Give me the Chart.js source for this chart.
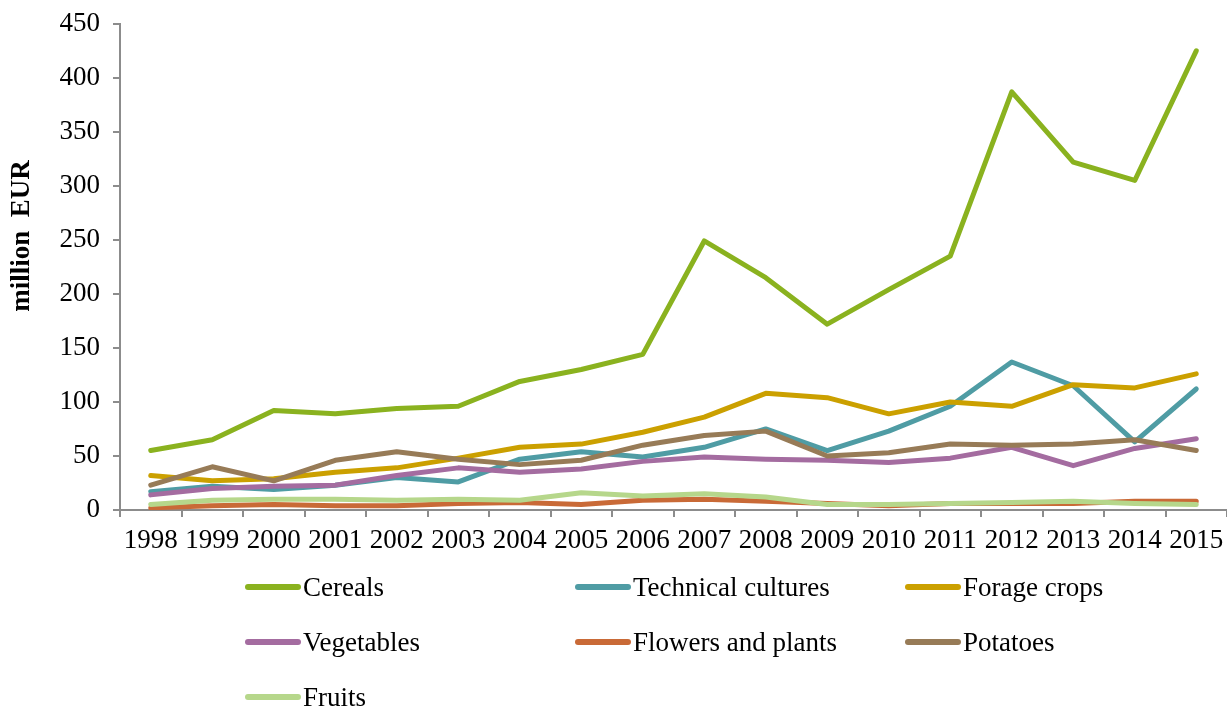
<!doctype html>
<html>
<head>
	<title>Crop values</title>
	<script src="https://cdn.jsdelivr.net/npm/chart.js@4/dist/chart.umd.min.js"></script>
	<style>
	body { margin: 0; background: #fff; }
	#wrap { position: relative; width: 1227px; height: 708px; }
	#legend { position: absolute; left: 0; top: 0; width: 1227px; height: 708px; pointer-events: none;
		font-family: "Liberation Serif", "Times New Roman", serif; font-size: 27px; color: #000; }
	.item { position: absolute; display: flex; align-items: center; height: 30px; margin-top: -15px; white-space: nowrap; }
	.item span.ln { display: inline-block; width: 56px; height: 6px; border-radius: 3px; margin-right: 2px; }
	</style>
</head>
<body>
	<div id="wrap">
		<canvas id="canvas" width="1227" height="708"></canvas>
		<div id="legend"></div>
	</div>
	<script>
		var years = ['1998', '1999', '2000', '2001', '2002', '2003', '2004', '2005', '2006',
			'2007', '2008', '2009', '2010', '2011', '2012', '2013', '2014', '2015'];

		var cereals = [55, 65, 92, 89, 94, 96, 119, 130, 144, 249, 215, 172, 204, 235, 387, 322, 305, 425];
		var technical = [17, 22, 19, 23, 30, 26, 47, 54, 49, 58, 75, 55, 73, 96, 137, 115, 63, 112];
		var forage = [32, 27, 29, 35, 39, 48, 58, 61, 72, 86, 108, 104, 89, 100, 96, 116, 113, 126];
		var vegetables = [14, 20, 22, 23, 32, 39, 35, 38, 45, 49, 47, 46, 44, 48, 58, 41, 57, 66];
		var flowers = [2, 4, 5, 4, 4, 6, 7, 5, 9, 10, 8, 6, 4, 6, 6, 6, 8, 8];
		var potatoes = [23, 40, 27, 46, 54, 47, 42, 46, 60, 69, 73, 50, 53, 61, 60, 61, 65, 55];
		var fruits = [5, 9, 10, 10, 9, 10, 9, 16, 13, 15, 12, 5, 5, 6, 7, 8, 6, 5];

		var seriesNames = ['Cereals', 'Technical cultures', 'Forage crops', 'Vegetables',
			'Flowers and plants', 'Potatoes', 'Fruits'];
		var seriesData = [cereals, technical, forage, vegetables, flowers, potatoes, fruits];
		var seriesColors = ['#8AB21F', '#4F9CA4', '#CBA000', '#A46CA0', '#C96A37', '#977B57', '#B6D78B'];

		var font = '"Liberation Serif", "Times New Roman", serif';
		var axisColor = '#8c8c8c';

		var datasets = seriesNames.map(function(name, i) {
			return {
				label: name,
				data: seriesData[i],
				borderColor: seriesColors[i],
				backgroundColor: seriesColors[i],
				borderWidth: 5,
				pointRadius: 0,
				tension: 0,
				borderCapStyle: 'round',
				borderJoinStyle: 'round',
				fill: false,
				order: seriesNames.length - 1 - i   // later series on top, like the original
			};
		});

		// legend in 3 columns
		var legendCols = [245, 575, 905];
		var legendRows = [587, 642, 697];
		var legend = document.getElementById('legend');
		seriesNames.forEach(function(name, i) {
			var el = document.createElement('div');
			el.className = 'item';
			el.style.left = legendCols[i % 3] + 'px';
			el.style.top = legendRows[Math.floor(i / 3)] + 'px';
			el.innerHTML = '<span class="ln" style="background:' + seriesColors[i] + '"></span>' + name;
			legend.appendChild(el);
		});

		// y title, sits a bit above the middle of the axis in the original
		var yTitle = {
			id: 'yTitle',
			afterDraw: function(chart) {
				var c = chart.ctx;
				c.save();
				c.translate(22, 236);
				c.rotate(-Math.PI / 2);
				c.font = 'bold 27px ' + font;
				c.fillStyle = '#000';
				c.textAlign = 'center';
				c.textBaseline = 'middle';
				c.fillText('million  EUR', 0, 0);
				c.restore();
			}
		};

		window.onload = function() {
			var ctx = document.getElementById('canvas').getContext('2d');
			window.myChart = new Chart(ctx, {
				type: 'line',
				data: { labels: years, datasets: datasets },
				plugins: [yTitle],
				options: {
					responsive: false,
					animation: false,
					layout: { padding: { top: 19, right: 0, bottom: 153, left: 0 } },
					plugins: { legend: { display: false }, tooltip: { enabled: false } },
					scales: {
						x: {
							offset: true,
							grid: { offset: true, drawOnChartArea: false, drawTicks: true, tickLength: 7, color: axisColor, lineWidth: 2 },
							border: { color: axisColor, width: 2 },
							ticks: { color: '#000', font: { family: font, size: 27 }, padding: 8, maxRotation: 0, autoSkip: false },
							afterFit: function(s) { s.height = 45; s.paddingLeft = 0; s.paddingRight = 0; }
						},
						y: {
							min: 0,
							max: 450,
							grid: { drawOnChartArea: false, drawTicks: true, tickLength: 7, color: axisColor, lineWidth: 2 },
							border: { color: axisColor, width: 2 },
							ticks: { stepSize: 50, color: '#000', font: { family: font, size: 27, lineHeight: 0.8 }, padding: 13 },
							afterFit: function(s) { s.width = 120; }
						}
					}
				}
			});
		};
	</script>
</body>
</html>
